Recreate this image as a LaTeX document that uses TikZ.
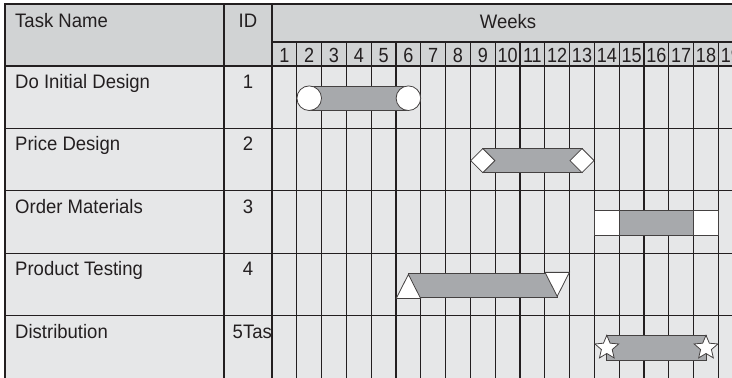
\documentclass[tikz,border=0pt]{standalone}
\usepackage{fontspec}
\setmainfont{Liberation Sans}
\newfontfamily\condfont[FakeStretch=0.95]{Liberation Sans}
\newfontfamily\numfont[FakeStretch=0.88]{Liberation Sans}
\usetikzlibrary{shapes.geometric}
\definecolor{hdrc}{HTML}{D1D3D4}
\definecolor{bodyc}{HTML}{E6E7E8}
\definecolor{barc}{HTML}{A7A9AC}
\definecolor{ink}{HTML}{231F20}
\tikzset{
  gline/.style={draw=ink, line width=1.3pt},
  frame/.style={draw=ink, line width=1.6pt},
  lbl/.style={font=\condfont\fontsize{19.5}{21}\selectfont, text=ink, inner sep=0pt, anchor=base west},
  lblc/.style={lbl, anchor=base},
  wk/.style={font=\numfont\fontsize{20.5}{22}\selectfont, text=ink, inner sep=0pt, anchor=base},
  bar/.style={fill=barc, draw=ink!85, line width=0.8pt},
  endcap/.style={fill=white, draw=ink!85, line width=0.8pt, inner sep=0pt},
  capcirc/.style={endcap, circle, minimum size=24.6pt},
  capdiam/.style={endcap, diamond, minimum width=24.4pt, minimum height=24.4pt},
  capsq/.style={endcap, rectangle, minimum width=24.6pt, minimum height=24.4pt},
  captri/.style={endcap, isosceles triangle, isosceles triangle stretches,
    minimum width=24.4pt, minimum height=24pt, anchor=apex},
  capstar/.style={endcap, star, star points=5, star point ratio=2.2, minimum size=25pt},
}
\newcommand{\wkc}[1]{272+(#1-0.5)*24.8}% centre of week column
\newcommand{\rowc}[1]{66+(#1-0.5)*62.4+1}% centre of task row
% name, row, first week, last week, cap style of left end, cap style of right end
\newcommand{\ganttbar}[6]{%
  \draw[bar] ({\wkc{#3}},{\rowc{#2}-12.2}) rectangle ({\wkc{#4}},{\rowc{#2}+12.2});
  \node[#5] (#1s) at ({\wkc{#3}},{\rowc{#2}}) {};
  \node[#6] (#1e) at ({\wkc{#4}},{\rowc{#2}}) {};}

\begin{document}
\begin{tikzpicture}[x=1pt, y=-1pt]
  \clip (0,0) rectangle (732,378);
  \fill[white] (0,0) rectangle (732,378);
  % table background
  \fill[hdrc] (5,4) rectangle (744,66);
  \fill[bodyc] (5,66) rectangle (744,390);
  % rules
  \foreach \yy in {66,128.4,190.8,253.2,315.6} \draw[gline] (5,\yy) -- (744,\yy);
  \draw[gline] (272,42) -- (744,42);
  \foreach \k in {1,...,18} \draw[gline] ({272+\k*24.8},42) -- ({272+\k*24.8},390);
  \draw[frame] (5,390) -- (5,4) -- (744,4);
  \draw[frame] (224,4) -- (224,390);
  \draw[frame] (272,4) -- (272,390);
  % header texts
  \node[lbl] (htask) at (15,27) {Task Name};
  \node[lblc] (hid) at (248,27) {ID};
  \node[lblc] (hweeks) at (508,28) {Weeks};
  \foreach \k in {1,...,19} \node[wk] (wk\k) at ({\wkc{\k}},62.5) {\k};
  % task rows
  \foreach \t/\n [count=\r] in {Do Initial Design/1, Price Design/2,
      Order Materials/3, Product Testing/4, Distribution/{}} {
    \node[lbl] (task\r) at (15,{66+(\r-1)*62.4+22.5}) {\t};
    \node[lblc] (id\r) at (248,{66+(\r-1)*62.4+22.5}) {\n};
  }
  \node[lbl] (id5x) at (232.5,{66+4*62.4+22.5}) {5Tas};
  % bars
  \ganttbar{design}{1}{2}{6}{capcirc}{capcirc}
  \ganttbar{price}{2}{9}{13}{capdiam}{capdiam}
  \ganttbar{order}{3}{14}{18}{capsq}{capsq}
  % product testing: triangles hang from their apex
  \draw[bar] ({\wkc{6}},{\rowc{4}-12}) rectangle ({\wkc{12}},{\rowc{4}+12});
  \node[captri, shape border rotate=90] (tests) at ({\wkc{6}},{\rowc{4}-12}) {};
  \node[captri, shape border rotate=270] (teste) at ({\wkc{12}},{\rowc{4}+12}) {};
  \ganttbar{dist}{5}{14}{18}{capstar}{capstar}
\end{tikzpicture}
\end{document}
